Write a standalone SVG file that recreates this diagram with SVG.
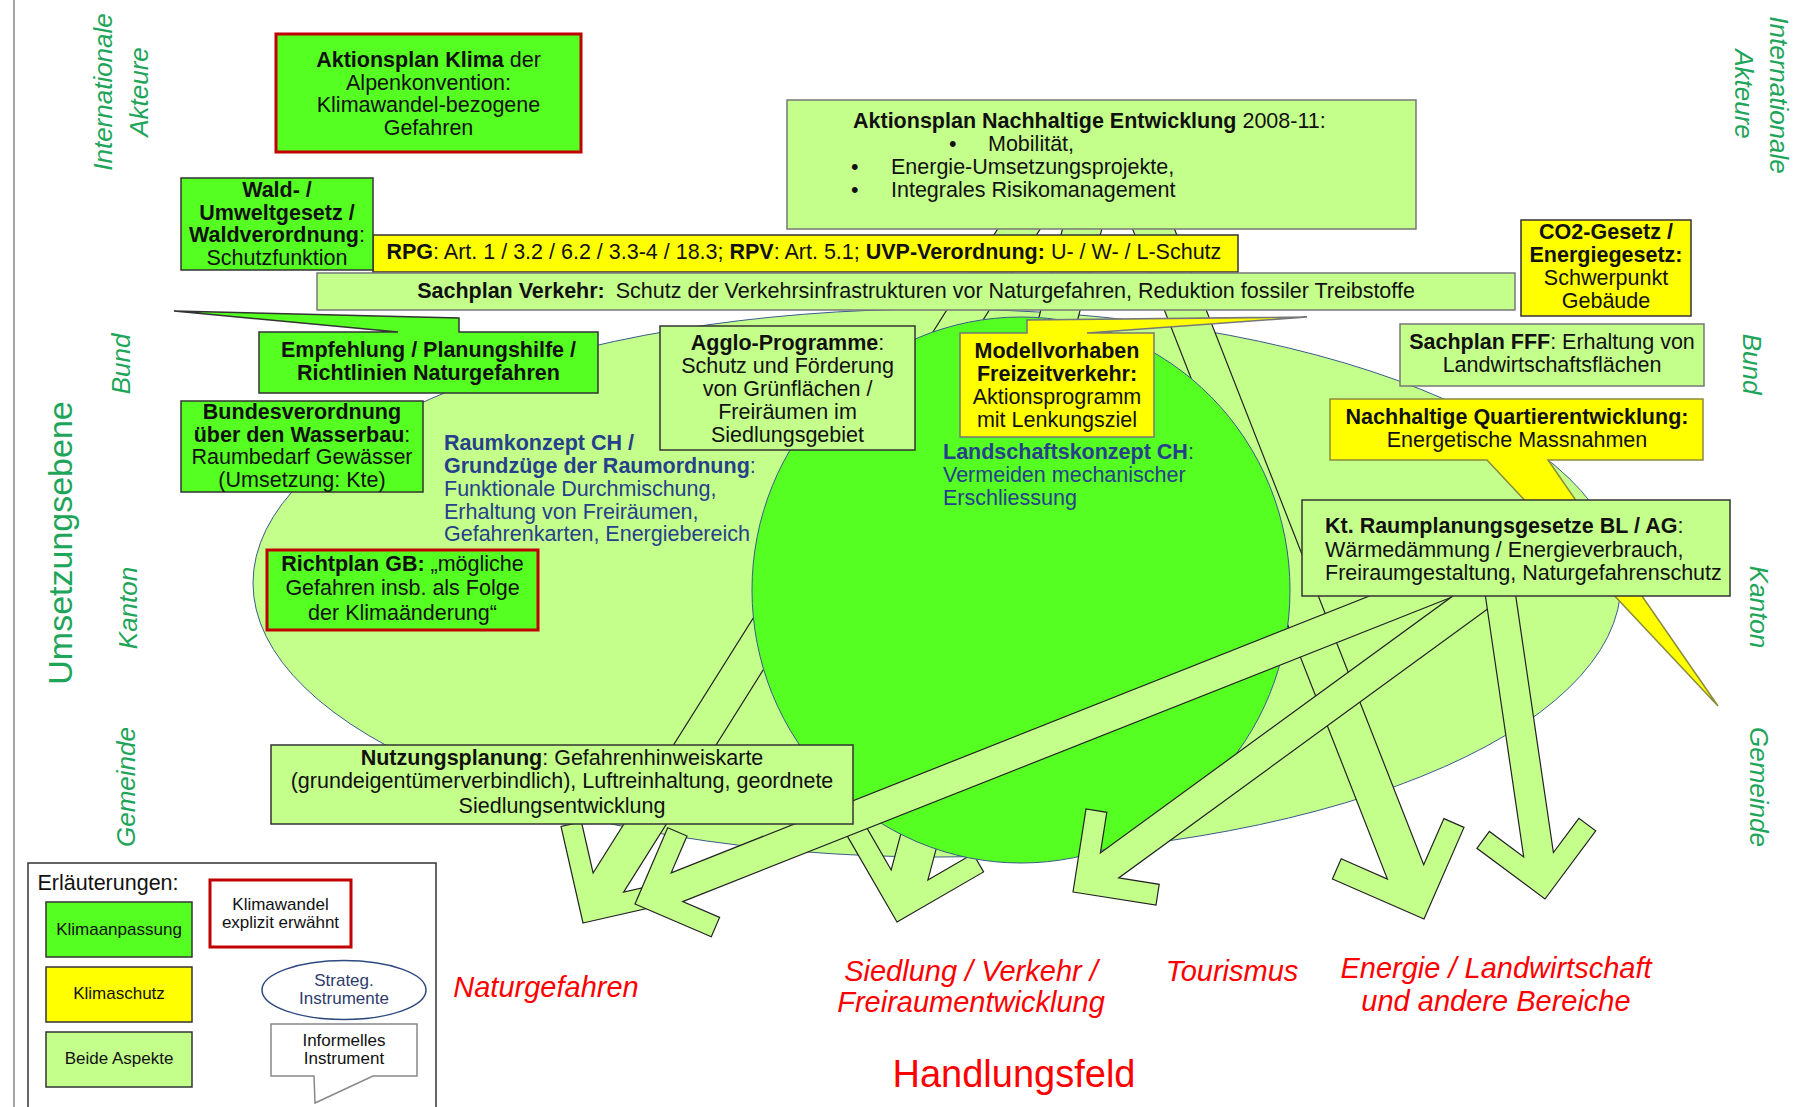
<svg xmlns="http://www.w3.org/2000/svg" width="1796" height="1107" viewBox="0 0 1796 1107">
<style>
text{font-family:"Liberation Sans",Arial,sans-serif;font-size:21.5px;fill:#111}
.b{font-weight:bold}
.c{text-anchor:middle}
.lvl{font-size:26px;font-style:italic;fill:#1ea55a;text-anchor:middle}
.big{font-size:34px;fill:#1ea55a;text-anchor:middle}
.red{fill:#ff0000;font-style:italic;font-size:29px;text-anchor:middle}
.blue{fill:#26408b}
.leg{font-size:17px}
.arr{fill:#c4ff8c;stroke:#222;stroke-width:1.2;stroke-linejoin:miter}
.g1{fill:#55ff22}.yl{fill:#ffff00}.lg{fill:#c4ff8c}
.bx{stroke:#333;stroke-width:1.5}
.gx{stroke:#777;stroke-width:1.5}
.rb{stroke:#c00000;stroke-width:3}
.shape{stroke:#3a5a8a;stroke-width:1}
</style>
<defs>
<mask id="behindCircle" maskUnits="userSpaceOnUse" x="0" y="0" width="1796" height="1107">
<rect x="0" y="0" width="1796" height="1107" fill="#fff"/>
<ellipse cx="1021" cy="590" rx="269" ry="273" fill="#000"/>
</mask>
</defs>
<line x1="14" y1="0" x2="14" y2="1107" stroke="#888" stroke-width="1.5"/>

<g id="ellipse-strategie"><ellipse class="lg shape" cx="937" cy="583" rx="684" ry="274"/></g>

<g id="connectors">
<g mask="url(#behindCircle)">
<polygon class="arr" points="583,923 679.5,901 674.9,880.5 623.6,892.2 1052.4,209.6 1021.9,190.4 593.1,873 581.4,821.8 561,826.5"/>
<polygon class="arr" points="897,922 983.6,871.9 973.1,853.8 927.9,879.9 1108.3,204.9 1071.6,195.1 891.2,870 865.1,824.9 846.9,835.4"/>
<polygon class="arr" points="1424,919 1464,827.4 1443.9,818.6 1423.7,864.8 1160.3,192.9 1124,207.1 1387.4,879 1341.2,858.8 1332.4,879"/>
</g>
</g>

<g id="circle-landschaft"><ellipse class="g1 shape" cx="1021" cy="590" rx="269" ry="273"/></g>

<g id="connectors-front">
<polygon class="arr" points="635,904 711.3,936.7 719.6,917.4 682.7,901.6 1490,582 1478,553 671.2,872.8 687,836 667.7,827.7"/>
<polygon class="arr" points="1073,892 1156,905 1159.2,884.3 1118.7,877.9 1534.6,574.7 1516.4,549.7 1100.4,852.9 1106.8,812.3 1086,809"/>
<polygon class="arr" points="1545,899 1595.7,830.8 1578.9,818.3 1553.4,852.6 1511.6,567.8 1481.9,572.1 1523.7,857 1489.4,831.4 1476.9,848.3"/>
</g>

<g id="aktionsplan-ne">
<rect class="lg gx" x="787" y="100" width="629" height="129"/>
<text x="853" y="128"><tspan class="b">Aktionsplan Nachhaltige Entwicklung</tspan> 2008-11:</text>
<text x="949" y="151">•</text><text x="988" y="151">Mobilität,</text>
<text x="851" y="174">•</text><text x="891" y="174">Energie-Umsetzungsprojekte,</text>
<text x="851" y="197">•</text><text x="891" y="197">Integrales Risikomanagement</text>
</g>

<g id="rpg">
<rect class="yl bx" x="373" y="235" width="865" height="37"/>
<text x="386.5" y="259"><tspan class="b">RPG</tspan>: Art. 1 / 3.2 / 6.2 / 3.3-4 / 18.3; <tspan class="b">RPV</tspan>: Art. 5.1; <tspan class="b">UVP-Verordnung:</tspan> U- / W- / L-Schutz</text>
</g>

<g id="wald">
<rect class="g1 bx" x="181" y="178" width="192" height="92"/>
<text class="c" x="277" y="197"><tspan class="b">Wald- /</tspan></text>
<text class="c b" x="277" y="220">Umweltgesetz /</text>
<text class="c" x="277" y="242"><tspan class="b">Waldverordnung</tspan>:</text>
<text class="c" x="277" y="265">Schutzfunktion</text>
</g>

<g id="sachplan-verkehr">
<rect class="lg gx" x="317" y="273" width="1198" height="37"/>
<text class="c" x="916" y="298"><tspan class="b">Sachplan Verkehr:</tspan><tspan dx="11">Schutz der Verkehrsinfrastrukturen vor Naturgefahren, Reduktion fossiler Treibstoffe</tspan></text>
</g>

<g id="aktionsplan-klima">
<rect class="g1 rb" x="276" y="34" width="305" height="118"/>
<text class="c" x="428.5" y="66.5"><tspan class="b">Aktionsplan Klima</tspan> der</text>
<text class="c" x="428.5" y="89.5">Alpenkonvention:</text>
<text class="c" x="428.5" y="111.5">Klimawandel-bezogene</text>
<text class="c" x="428.5" y="134.5">Gefahren</text>
</g>

<g id="co2">
<rect class="yl bx" x="1521" y="220" width="170" height="96"/>
<text class="c b" x="1606" y="239">CO2-Gesetz /</text>
<text class="c b" x="1606" y="262">Energiegesetz:</text>
<text class="c" x="1606" y="285">Schwerpunkt</text>
<text class="c" x="1606" y="308">Gebäude</text>
</g>

<g id="sachplan-fff">
<rect class="lg gx" x="1400" y="324" width="304" height="62"/>
<text class="c" x="1552" y="349"><tspan class="b">Sachplan FFF</tspan>: Erhaltung von</text>
<text class="c" x="1552" y="372">Landwirtschaftsflächen</text>
</g>

<g id="empfehlung">
<path class="g1 bx" d="M259,332 H398 L174,311 L459,318 V332 H598 V393 H259 Z"/>
<text class="c b" x="428.5" y="357">Empfehlung / Planungshilfe /</text>
<text class="c b" x="428.5" y="380">Richtlinien Naturgefahren</text>
</g>

<g id="agglo">
<rect class="lg bx" x="660" y="326" width="255" height="124"/>
<text class="c" x="787.5" y="350"><tspan class="b">Agglo-Programme</tspan>:</text>
<text class="c" x="787.5" y="373">Schutz und Förderung</text>
<text class="c" x="787.5" y="396">von Grünflächen /</text>
<text class="c" x="787.5" y="419">Freiräumen im</text>
<text class="c" x="787.5" y="442">Siedlungsgebiet</text>
</g>

<g id="modellvorhaben">
<path class="yl gx" d="M960,333 H1027 V320 L1307,317 L1087,333 H1154 V437 H960 Z"/>
<text class="c b" x="1057" y="358">Modellvorhaben</text>
<text class="c b" x="1057" y="381">Freizeitverkehr:</text>
<text class="c" x="1057" y="404">Aktionsprogramm</text>
<text class="c" x="1057" y="427">mit Lenkungsziel</text>
</g>

<g id="bundesverordnung">
<rect class="g1 bx" x="181" y="401" width="242" height="91"/>
<text class="c b" x="302" y="419">Bundesverordnung</text>
<text class="c" x="302" y="442"><tspan class="b">über den Wasserbau</tspan>:</text>
<text class="c" x="302" y="464">Raumbedarf Gewässer</text>
<text class="c" x="302" y="487">(Umsetzung: Kte)</text>
</g>

<g id="richtplan">
<rect class="g1 rb" x="267" y="550" width="271" height="80"/>
<text class="c" x="402.5" y="571"><tspan class="b">Richtplan GB:</tspan> „mögliche</text>
<text class="c" x="402.5" y="595">Gefahren insb. als Folge</text>
<text class="c" x="402.5" y="620">der Klimaänderung“</text>
</g>

<g id="raumkonzept">
<text class="blue" x="444" y="450"><tspan class="b">Raumkonzept CH /</tspan></text>
<text class="blue" x="444" y="473"><tspan class="b">Grundzüge der Raumordnung</tspan>:</text>
<text class="blue" x="444" y="496">Funktionale Durchmischung,</text>
<text class="blue" x="444" y="519">Erhaltung von Freiräumen,</text>
<text class="blue" x="444" y="541">Gefahrenkarten, Energiebereich</text>
</g>

<g id="landschaftskonzept">
<text class="blue" x="943" y="459"><tspan class="b">Landschaftskonzept CH</tspan>:</text>
<text class="blue" x="943" y="482">Vermeiden mechanischer</text>
<text class="blue" x="943" y="505">Erschliessung</text>
</g>

<g id="quartierentwicklung">
<path class="yl" stroke="#8a8a3a" stroke-width="1.5" d="M1330,399 H1703 V460 H1548 L1718,706 L1487,460 H1330 Z"/>
<text class="c b" x="1517" y="424">Nachhaltige Quartierentwicklung:</text>
<text class="c" x="1517" y="447">Energetische Massnahmen</text>
</g>

<g id="kt-raumplanung">
<rect class="lg bx" x="1302" y="500" width="428" height="96"/>
<text x="1325" y="533"><tspan class="b">Kt. Raumplanungsgesetze BL / AG</tspan>:</text>
<text x="1325" y="557">Wärmedämmung / Energieverbrauch,</text>
<text x="1325" y="580">Freiraumgestaltung, Naturgefahrenschutz</text>
</g>

<g id="nutzungsplanung">
<rect class="lg bx" x="271" y="745" width="582" height="79"/>
<text class="c" x="562" y="765"><tspan class="b">Nutzungsplanung</tspan>: Gefahrenhinweiskarte</text>
<text class="c" x="562" y="788">(grundeigentümerverbindlich), Luftreinhaltung, geordnete</text>
<text class="c" x="562" y="813">Siedlungsentwicklung</text>
</g>

<g id="handlungsfelder">
<text class="red" x="546" y="997">Naturgefahren</text>
<text class="red" x="971" y="981">Siedlung / Verkehr /</text>
<text class="red" x="971" y="1012">Freiraumentwicklung</text>
<text class="red" x="1232" y="981">Tourismus</text>
<text class="red" x="1496" y="978">Energie / Landwirtschaft</text>
<text class="red" x="1496" y="1011">und andere Bereiche</text>
<text x="1014" y="1087" style="font-size:38px;fill:#ff0000;text-anchor:middle">Handlungsfeld</text>
</g>

<g id="ebenen">
<text class="big" transform="translate(72,543) rotate(-90)">Umsetzungsebene</text>
<text class="lvl" transform="translate(111.5,92) rotate(-90)">Internationale</text>
<text class="lvl" transform="translate(148,92) rotate(-90)">Akteure</text>
<text class="lvl" transform="translate(130,364) rotate(-90)">Bund</text>
<text class="lvl" transform="translate(137,608) rotate(-90)">Kanton</text>
<text class="lvl" transform="translate(135,787) rotate(-90)">Gemeinde</text>
<text class="lvl" transform="translate(1770,95) rotate(90)">Internationale</text>
<text class="lvl" transform="translate(1735,94) rotate(90)">Akteure</text>
<text class="lvl" transform="translate(1743,364) rotate(90)">Bund</text>
<text class="lvl" transform="translate(1750,607) rotate(90)">Kanton</text>
<text class="lvl" transform="translate(1750,787) rotate(90)">Gemeinde</text>
</g>

<g id="legende">
<rect x="28" y="863" width="408" height="260" fill="#fff" stroke="#333" stroke-width="1.5"/>
<text x="37.5" y="890">Erläuterungen:</text>
<rect class="g1 bx" x="46" y="902" width="146" height="55"/>
<text class="c leg" x="119" y="935">Klimaanpassung</text>
<rect class="yl bx" x="46" y="967" width="146" height="55"/>
<text class="c leg" x="119" y="999">Klimaschutz</text>
<rect class="lg bx" x="46" y="1032" width="146" height="55"/>
<text class="c leg" x="119" y="1064">Beide Aspekte</text>
<rect x="210" y="880" width="141" height="67" fill="#fff" class="rb"/>
<text class="c leg" x="280.5" y="910">Klimawandel</text>
<text class="c leg" x="280.5" y="928">explizit erwähnt</text>
<ellipse cx="344" cy="990" rx="82" ry="29.5" fill="#fff" stroke="#2f4a80" stroke-width="1.5"/>
<text class="c leg" x="344" y="986" style="fill:#2e3b6b">Strateg.</text>
<text class="c leg" x="344" y="1004" style="fill:#2e3b6b">Instrumente</text>
<path d="M271,1024 H417 V1076 H373 L315,1103 L314,1076 H271 Z" fill="#fff" stroke="#888" stroke-width="1.5"/>
<text class="c leg" x="344" y="1046">Informelles</text>
<text class="c leg" x="344" y="1064">Instrument</text>
</g>
</svg>
